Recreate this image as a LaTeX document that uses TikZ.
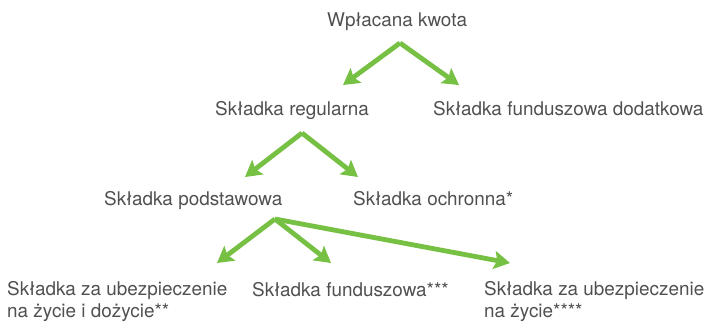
\documentclass[tikz,border=0pt]{standalone}
\usepackage{fontspec}
\setmainfont{TeX Gyre Heros}
\usetikzlibrary{arrows.meta, positioning}
\definecolor{zielony}{HTML}{76C043}
\definecolor{szary}{HTML}{505050}

\begin{document}
\begin{tikzpicture}[x=1pt, y=-1pt,
        %Styles
        Label/.style={
            inner sep=0pt,
            anchor=base west,
            text=szary,
            font=\fontsize{18.9}{21.5}\selectfont,
            align=left
        },
        Arr/.style={
            draw=zielony,
            line width=4.8pt,
            -{Stealth[length=16pt, width=18pt, inset=3pt]}
        }
    ]
\useasboundingbox (0,0) rectangle (707,322);

%labels
\node[Label](tWpl) at (327,26){Wpłacana kwota};
\node[Label](tReg) at (215,115){Składka regularna};
\node[Label](tDod) at (433,115){Składka funduszowa dodatkowa};
\node[Label](tPod) at (104,205){Składka podstawowa};
\node[Label](tOch) at (353,205){Składka ochronna*};
% two-line labels: base is the last line
\node[Label](tDoz) at (7,317){Składka za ubezpieczenie\\na życie i dożycie**};
\node[Label](tFun) at (252,296){Składka funduszowa***};
\node[Label](tZyc) at (484,317){Składka za ubezpieczenie\\na życie****};

%arrow ends
\coordinate (a1) at (400,43);
\coordinate (a1l) at (343,85);
\coordinate (a1r) at (459,85);
\coordinate (a2) at (302,133);
\coordinate (a2l) at (245,177);
\coordinate (a2r) at (358,177);
\coordinate (a3) at (275,219);
\coordinate (a3l) at (217,263);
\coordinate (a3m) at (331,263);
\coordinate (a3r) at (510,263);

\foreach \t in {a1l,a1r} \draw[Arr] (a1) -- (\t);
\foreach \t in {a2l,a2r} \draw[Arr] (a2) -- (\t);
\foreach \t in {a3l,a3m,a3r} \draw[Arr] (a3) -- (\t);

\end{tikzpicture}
\end{document}
